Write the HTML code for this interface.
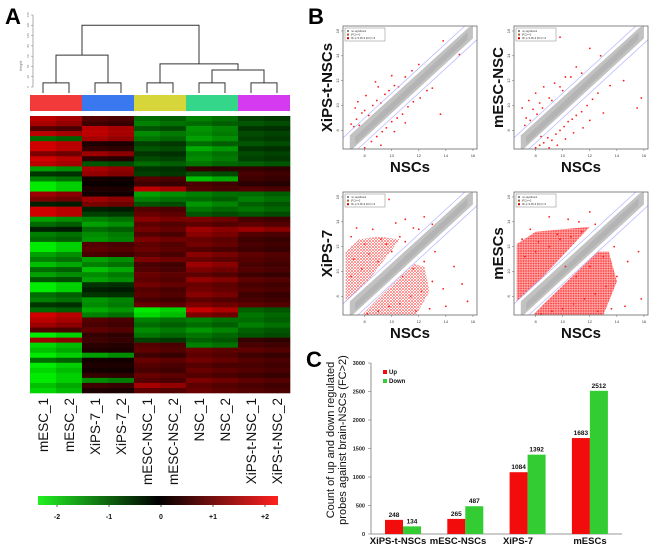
<!DOCTYPE html>
<html><head><meta charset="utf-8"><style>
html,body{margin:0;padding:0;background:#fff;}
svg{display:block;font-family:"Liberation Sans",Arial,sans-serif;}
</style></head><body>
<svg id="fig" width="650" height="545" viewBox="0 0 650 545" xmlns="http://www.w3.org/2000/svg">
<defs>
<pattern id="dots" width="3" height="3" patternUnits="userSpaceOnUse"><rect width="3" height="3" fill="#fff"/><circle cx="1" cy="1" r="0.9" fill="#ff2020"/><circle cx="2.5" cy="2.4" r="0.6" fill="#ff5050"/></pattern>
<pattern id="dots2" width="2.5" height="2.5" patternUnits="userSpaceOnUse"><rect width="2.5" height="2.5" fill="#ff9090"/><circle cx="1" cy="1" r="0.9" fill="#ff1010"/></pattern>
</defs>
<text x="5" y="24" font-size="22" font-weight="bold">A</text>
<text x="308" y="24" font-size="22" font-weight="bold">B</text>
<text x="306" y="367" font-size="22" font-weight="bold">C</text>
<g id="dendro"></g>
<g id="heat"></g>
<g id="cbar"></g>
<g id="scatters"></g>
<g id="bars"></g>
</svg>
<script>
const NS="http://www.w3.org/2000/svg";
function mk(tag,attrs,parent,txt){const e=document.createElementNS(NS,tag);for(const k in attrs)e.setAttribute(k,attrs[k]);if(txt!==undefined)e.textContent=txt;parent.appendChild(e);return e;}

// ===== Heatmap data =====
const sampleLabels=["mESC_1","mESC_2","XiPS-7_1","XiPS-7_2","mESC-NSC_1","mESC-NSC_2","NSC_1","NSC_2","XiPS-t-NSC_1","XiPS-t-NSC_2"];
const groupColors=["#f23a3a","#3a78f0","#d6d63a","#34d68a","#d63af0"];
const heatMESC=[1.8,1.6,0.8,1.8,-1, 2,2,1.2,2,1.8, -1.5,-0.5,-1.2,-2.2,-2.2, 1.5,1.2,-0.3,2,2, -1.5,-1,-0.3,-1.2,-1, -2.2,-2.2,-1.5,-1.2,-1.8, -1,-1.5,-0.8,-2.2,-2.2, -1,-1.2,-0.5,-1,2, 1.8,1.5,0.8,-2.2,1.5, -2,-1.8,-2.2,-1,-2.2, -2,-2.2,-2.2,-1.8,-2];
const heatXiPS7=[0.8,0.6,1.8,1.8,1.6, 0.3,0.5,1.5,0.4,-0.8, 1.6,1.4,0.2,0.1,0.3, 0.2,1.5,1.2,-0.3,-0.6, -1.2,-1.5,-1,-1.3,-1.4, 0.8,0.9,0.7,-1.5,-1.2, -1.8,-1.3,-1.5,-0.5,-0.3, -0.5,-1.4,-1.3,-1.6,-1.2, 0.8,0.7,0.9,0.5,0.6, 0.4,0.3,-1.5,0.2,0.3, 0.2,0.5,-1.3,0.6,0.3];
const heatMESCNSC=[-1,-1.2,-0.8,-1.3,-1.1, -0.6,-0.8,-0.5,-0.7,-1, -0.5,-0.6,0.8,0.6,1.8, -1.5,-1.2,-0.8,0.8,1, 1.3,0.9,1.1,0.8,1.2, 0.9,1,0.8,1.2,0.7, 0.8,1,0.9,1.1,0.8, 0.9,0.7,1,-2.2,-2, -1.2,-1,-1.3,-1.1,-0.6, 0.8,0.9,0.6,1,0.8, 0.7,1,0.8,1.6,0.9];
const heatNSC=[-1.2,-1,-1.4,-1.3,-1.5, -1,-1.6,-1.2,-1.3,-1.1, 0.5,-0.8,-1.8,0.7,0.8, -1.2,-1,-1.4,-1.1,-0.8, 1.2,0.9,1.5,1.3,1, 1.1,0.8,1.3,1,1.5, 1.2,0.9,1.4,1,1.1, 1.3,0.9,1.2,1.9,1.2, -1.2,-1,-1.4,-1.1,-0.9, -1.2,1,0.9,1.1,0.8, 1,0.8,1.2,0.9,1];
const heatXiPSt=[-0.6,-0.8,-0.5,-0.7,-0.6, -0.8,-0.5,-0.7,-0.6,-0.9, 0.5,0.7,0.6,0.4,0.8, -1,-1.2,-0.9,-1.1,-0.8, 0.7,0.9,1.5,0.8,0.6, 0.7,0.6,0.9,0.8,0.7, 0.8,0.6,0.9,0.7,0.8, 0.6,0.7,0.9,-0.9,-1.1, -1,-1.2,-0.9,-0.8,0.5, 0.7,0.9,0.6,0.8,0.7, 0.8,0.6,0.9,0.7,0.8];
const heatGroups=[heatMESC,heatXiPS7,heatMESCNSC,heatNSC,heatXiPSt];
const scaleTicks=["-2","-1","0","+1","+2"];
const dendroHeights=[8,8,8,8,8,62,45,33,58,120];

// ===== Bar data =====
const barCategories=["XiPS-t-NSCs","mESC-NSCs","XiPS-7","mESCs"];
const barUp=[248,265,1084,1683];
const barDown=[134,487,1392,2512];
const barTicks=[0,500,1000,1500,2000,2500,3000];

// ===== Scatter data (log2 expression) =====
const scTitlesY=["XiPS-t-NSCs","mESC-NSC","XiPS-7","mESCs"];
const scXTicks=[8,10,12,14,16];
const scYTicks=[8,10,12,14,16];
const sc1Red=[[7,8.5],[7.2,8.3],[7.4,8.9],[7.6,8.4],[7.8,9.4],[8,9.6],[8.3,9.2],[8.6,10],[8.9,10.4],[9.2,10.2],[9.5,10.9],[9.8,11.2],[10.2,11.6],[10.5,11.5],[11,12.3],[11.5,12.8],[12,13.3],[13.8,15.2],[7.3,9.8],[8.1,10.8],[9,11.5],[10,12.4],[7.5,10.3],[8.8,11.9],[8,6.6],[8.5,7.1],[8.9,7.5],[9.3,7.9],[9.6,8.2],[10,8.7],[10.4,9],[10.8,9.3],[11.2,9.9],[11.6,10.3],[12.1,10.6],[12.6,11.2],[13,11.4],[13.6,9.3],[15,14.1],[9.2,6.8],[10.2,7.9],[11,8.6]];
const sc2Red=[[7,9.8],[7.3,9],[7.5,10.4],[7.8,9.7],[8,11],[8.3,10.2],[8.6,11.5],[9,10.6],[9.4,11.8],[9.8,11.5],[10.2,12.3],[10.6,12.3],[11,13.1],[12,14.6],[9.8,15.5],[7.2,8.4],[7.6,8.8],[8.1,9.3],[8.5,9.8],[9.2,10.4],[10,11.2],[11.4,12.6],[12.8,14],[8,6.6],[8.3,6.8],[8.6,7],[8.9,7.4],[9.2,7.2],[9.5,7.7],[9.8,8],[10.1,8.3],[10.4,8.7],[10.7,8.9],[11,9.2],[11.4,9.5],[11.8,10],[12.2,10.5],[12.6,11],[13.5,11.6],[14.5,12],[15.5,9.8],[15.8,10.6],[8.4,7.5],[9,6.6],[9.6,6.8],[10.2,7.3],[10.8,7.8],[11.5,8.2],[12,8.8],[13,9.4]];
const sc3Red=[[7,12.8],[7.4,13.5],[8,12.2],[8.6,13.4],[9.2,12.6],[9.8,15.8],[10.3,13.9],[11,14.2],[11.6,13.5],[7.2,11],[8.3,11.4],[9.6,12.2],[10.6,12.8],[12.4,14.4],[7,9.6],[7.8,10.2],[9,10.8],[10,11.6],[11,12.4],[12,13.4],[13,13.8],[8.2,6.6],[9,6.8],[9.8,7.2],[10.6,7.4],[11.4,8],[12.2,8.4],[13,9.2],[13.8,8.6],[14.6,10.4],[15.2,9],[15.6,7.6],[14,7.2],[12.8,7],[11.8,6.8],[10.8,9.6],[11.6,10.2],[12.4,10.8],[13.2,11.6]];
const sc4Red=[[7,12.6],[7.6,13.4],[8.2,12.4],[9,14.4],[9.6,13],[10.4,14.2],[11.2,14],[12,14.8],[7.2,11.2],[8,11.6],[9,12],[9.8,12.6],[10.6,12.8],[11.4,13.2],[12.4,13.8],[8.6,15.4],[8.4,6.6],[9.2,6.8],[10,7],[10.8,7.4],[11.6,7.8],[12.4,8.2],[13.2,8.8],[14,9.6],[14.8,10.8],[15.6,11.6],[15.8,7.8],[14.6,7.2],[13.6,7],[12.6,6.8],[11,9.6],[12,10.4],[13,11.2],[13.8,12],[10.2,10.4]];
const scDenseUp3=[[6.6,7.6],[6.6,11.6],[7.6,12.6],[9,12.8],[10.6,12.6],[8.3,9.3],[7.2,8.2]];
const scDenseDown3=[[7.8,6.5],[11.8,6.5],[12.8,8.4],[12.4,10.4],[11.6,10.6],[8.6,7.4]];
const scDenseUp4=[[6.6,7.6],[6.6,12.2],[8,13.2],[10,13.4],[12,13.6],[8.3,9.3],[7.2,8.2]];
const scDenseDown4=[[7.8,6.5],[13,6.5],[14,9.2],[13.4,11.6],[12.6,11.6],[8.6,7.4]];
const scRed=[sc1Red,sc2Red,sc3Red,sc4Red];
const scDenseUp=[null,null,scDenseUp3,scDenseUp4];
const scDenseDown=[null,null,scDenseDown3,scDenseDown4];
const scDenseFill=["","","url(#dots)","url(#dots2)"];

// ===== Dendrogram =====
(function(){
  const g=document.getElementById('dendro');
  const hy=v=>87-v*(72/140);
  mk('line',{x1:33,y1:hy(0),x2:33,y2:hy(140),stroke:'#777','stroke-width':0.6},g);
  [0,20,40,60,80,100,120,140].forEach(t=>{
    mk('line',{x1:31,y1:hy(t),x2:33,y2:hy(t),stroke:'#777','stroke-width':0.5},g);
    const tx=mk('text',{x:29,y:hy(t),'font-size':3,fill:'#777','text-anchor':'middle',transform:`rotate(-90 29 ${hy(t)})`},g,String(t));
    
    
  });
  const ht=mk('text',{x:22,y:66,'font-size':3.5,fill:'#777','text-anchor':'middle',transform:'rotate(-90 22 66)'},g,'Height');
  
  
  const colX=i=>30+13+26*i;
  const st={stroke:'#333','stroke-width':1,fill:'none'};
  const U=(x1,x2,h,l,r)=>mk('path',Object.assign({d:`M${x1},${l}V${hy(h)}H${x2}V${r}`},st),g);
  const pairX=[];
  for(let p=0;p<5;p++){U(colX(2*p),colX(2*p+1),dendroHeights[p],93,93);pairX.push((colX(2*p)+colX(2*p+1))/2);}
  const c1=(pairX[0]+pairX[1])/2;
  U(pairX[0],pairX[1],dendroHeights[5],hy(dendroHeights[0]),hy(dendroHeights[1]));
  const c3=(pairX[3]+pairX[4])/2;
  U(pairX[3],pairX[4],dendroHeights[7],hy(8),hy(8));
  const c2=(pairX[2]+c3)/2;
  U(pairX[2],c3,dendroHeights[6],hy(8),hy(dendroHeights[7]));
  U(c1,c2,dendroHeights[9],hy(dendroHeights[5]),hy(dendroHeights[6]));
  groupColors.forEach((c,i)=>{
    const r=mk('rect',{x:30+52*i,y:95,width:52,height:16,fill:c},g);
    
    
  });
})();

// ===== Heatmap =====
(function(){
  const g=document.getElementById('heat');
  const top=116,bottom=393,left=30,cw=26;
  const n=heatGroups[0].length, rh=(bottom-top)/n;
  const col=v=>{v=Math.max(-2.2,Math.min(2.2,v))/2.2;
    if(v>=0)return `rgb(${Math.round(230*v)},0,0)`;
    return `rgb(0,${Math.round(235*-v)},0)`;};
  heatGroups.forEach((arr,gi)=>{
    arr.forEach((v,ri)=>{
      for(let r=0;r<2;r++){
        const vv=r===0?v:v*0.88;
        const c=mk('rect',{x:left+(2*gi+r)*cw,y:top+ri*rh,width:cw+0.3,height:rh+0.3,fill:col(vv)},g);
        
        
      }
    });
  });
  sampleLabels.forEach((s,i)=>{
    const x=left+cw*i+cw/2+5, y=398;
    const t=mk('text',{x:x,y:y,'font-size':13.5,fill:'#111','text-anchor':'end',transform:`rotate(-90 ${x} ${y})`},g,s);
    
    
  });
})();

// ===== Color scale =====
(function(){
  const g=document.getElementById('cbar');
  const defs=mk('defs',{},g);
  const lg=mk('linearGradient',{id:'cg',x1:0,x2:1,y1:0,y2:0},defs);
  mk('stop',{offset:'0','stop-color':'#22f022'},lg);
  mk('stop',{offset:'0.5','stop-color':'#000'},lg);
  mk('stop',{offset:'1','stop-color':'#ff2020'},lg);
  mk('rect',{x:38,y:496,width:240,height:9,fill:'url(#cg)'},g);
  const tx=i=>57+52*i;
  scaleTicks.forEach((t,i)=>{
    mk('line',{x1:tx(i),y1:505,x2:tx(i),y2:507,stroke:'#333','stroke-width':0.8},g);
    const e=mk('text',{x:tx(i),y:519,'font-size':7,'font-weight':'bold','text-anchor':'middle',fill:'#111'},g,t);
    
    
  });
})();

// ===== Scatter plots =====
(function(){
  const root=document.getElementById('scatters');
  const boxes=[[343,26],[514,26],[343,192],[514,192]];
  const W=134,H=123;
  boxes.forEach((b,pi)=>{
    const g=mk('g',{},root);
    
    
    const X0=6.4,X1=16.3,Y0=6.5,Y1=16.4;
    const sx=v=>b[0]+(v-X0)/(X1-X0)*W, sy=v=>b[1]+H-(v-Y0)/(Y1-Y0)*H;
    const cp='cp'+pi;
    mk('rect',{x:b[0],y:b[1],width:W,height:H},mk('clipPath',{id:cp},g));
    const inner=mk('g',{'clip-path':`url(#${cp})`},g);
    const poly=(arr,fill,op)=>mk('polygon',{points:arr.map(p=>sx(p[0])+','+sy(p[1])).join(' '),fill:fill,opacity:op},inner);
    if(scDenseUp[pi]){poly(scDenseUp[pi],scDenseFill[pi],0.8);poly(scDenseDown[pi],scDenseFill[pi],0.8);}
    const band=[[6.9,6.3],[16,15.4],[16,16.4],[15.7,16.3],[6.9,7.6]];
    poly(band,'#c2c2c2',1);
    poly([[7.3,6.9],[15.6,15.3],[15.6,15.9],[7.3,7.5]],'#b0b0b0',0.8);
    scRed[pi].forEach(p=>{
      const c=mk('circle',{cx:sx(p[0]),cy:sy(p[1]),r:0.9,fill:'#ff1a1a'},inner);
      
      
    });
    [-1,1].forEach(o=>mk('line',{x1:sx(5),y1:sy(5+o),x2:sx(18),y2:sy(18+o),stroke:'#a8acff','stroke-width':0.6},inner));
    mk('rect',{x:b[0],y:b[1],width:W,height:H,fill:'none',stroke:'#666','stroke-width':0.8},g);
    mk('rect',{x:b[0]+2,y:b[1]+2,width:40,height:13,fill:'#fff',stroke:'#666','stroke-width':0.4},g);
    ['no significant','|FC|>=2','fdr p<0.05 & |FC|>=2'].forEach((s,i)=>{
      mk('rect',{x:b[0]+4,y:b[1]+4+i*3.6,width:2,height:2,fill:['#888','#b06020','#cc0000'][i]},g);
      mk('text',{x:b[0]+8,y:b[1]+6+i*3.6,'font-size':2.6,fill:'#333'},g,s);
    });
    scXTicks.forEach(t=>{
      mk('line',{x1:sx(t),y1:b[1]+H,x2:sx(t),y2:b[1]+H+2,stroke:'#666','stroke-width':0.5},g);
      const e=mk('text',{x:sx(t),y:b[1]+H+8,'font-size':4,'text-anchor':'middle',fill:'#444'},g,String(t));
      
      
    });
    scYTicks.forEach(t=>{
      mk('line',{x1:b[0]-2,y1:sy(t),x2:b[0],y2:sy(t),stroke:'#666','stroke-width':0.5},g);
      const e=mk('text',{x:b[0]-4,y:sy(t),'font-size':4,'text-anchor':'middle',fill:'#444',transform:`rotate(-90 ${b[0]-4} ${sy(t)})`},g,String(t));
      
      
    });
    const xt=mk('text',{x:b[0]+W/2,y:b[1]+H+23,'font-size':15,'font-weight':'bold','text-anchor':'middle',fill:'#111'},g,'NSCs');
    
    
    const lx=b[0]-11, ly=b[1]+H/2;
    const yt=mk('text',{x:lx,y:ly,'font-size':15,'font-weight':'bold','text-anchor':'middle',fill:'#111',transform:`rotate(-90 ${lx} ${ly})`},g,scTitlesY[pi]);
    
    
  });
})();

// ===== Bar chart =====
(function(){
  const g=document.getElementById('bars');
  const y=v=>534-v*(171/3000);
  const cx=i=>403+62.3*i, bw=18;
  const labelX=[398,458,518,590];
  const ax=371;
  mk('line',{x1:ax,y1:y(0),x2:622,y2:y(0),stroke:'#777','stroke-width':0.8},g);
  mk('line',{x1:ax,y1:y(0),x2:ax,y2:y(3000),stroke:'#777','stroke-width':0.8},g);
  barTicks.forEach(t=>{
    mk('line',{x1:ax-3,y1:y(t),x2:ax,y2:y(t),stroke:'#777','stroke-width':0.6},g);
    const e=mk('text',{x:ax-6,y:y(t)+2,'font-size':5.5,'font-weight':'bold','text-anchor':'end',fill:'#222'},g,String(t));
    
    
  });
  barCategories.forEach((c,i)=>{
    const u=mk('rect',{x:cx(i)-bw,y:y(barUp[i]),width:bw,height:y(0)-y(barUp[i]),fill:'#f20c0c'},g);
    
    
    const d=mk('rect',{x:cx(i),y:y(barDown[i]),width:bw,height:y(0)-y(barDown[i]),fill:'#33cc33'},g);
    
    
    mk('text',{x:cx(i)-bw/2,y:y(barUp[i])-3,'font-size':6.5,'font-weight':'bold','text-anchor':'middle',fill:'#111'},g,String(barUp[i]));
    mk('text',{x:cx(i)+bw/2,y:y(barDown[i])-3,'font-size':6.5,'font-weight':'bold','text-anchor':'middle',fill:'#111'},g,String(barDown[i]));
    const l=mk('text',{x:labelX[i],y:544,'font-size':9.5,'font-weight':'bold','text-anchor':'middle',fill:'#111'},g,c);
    
    
  });
  const lg=mk('g',{},g);
  
  
  mk('rect',{x:383,y:370,width:4,height:4,fill:'#f20c0c'},lg);
  mk('text',{x:389,y:374,'font-size':6,'font-weight':'bold',fill:'#111'},lg,'Up');
  mk('rect',{x:383,y:379,width:4,height:4,fill:'#33cc33'},lg);
  mk('text',{x:389,y:383,'font-size':6,'font-weight':'bold',fill:'#111'},lg,'Down');
  [['Count of up and down regulated',334],['probes against brain-NSCs (FC>2)',346]].forEach(([s,x])=>{
    const t=mk('text',{x:x,y:440,'font-size':11,'text-anchor':'middle',fill:'#111',transform:`rotate(-90 ${x} 440)`},g,s);
    
    
  });
})();
</script>
</body></html>
